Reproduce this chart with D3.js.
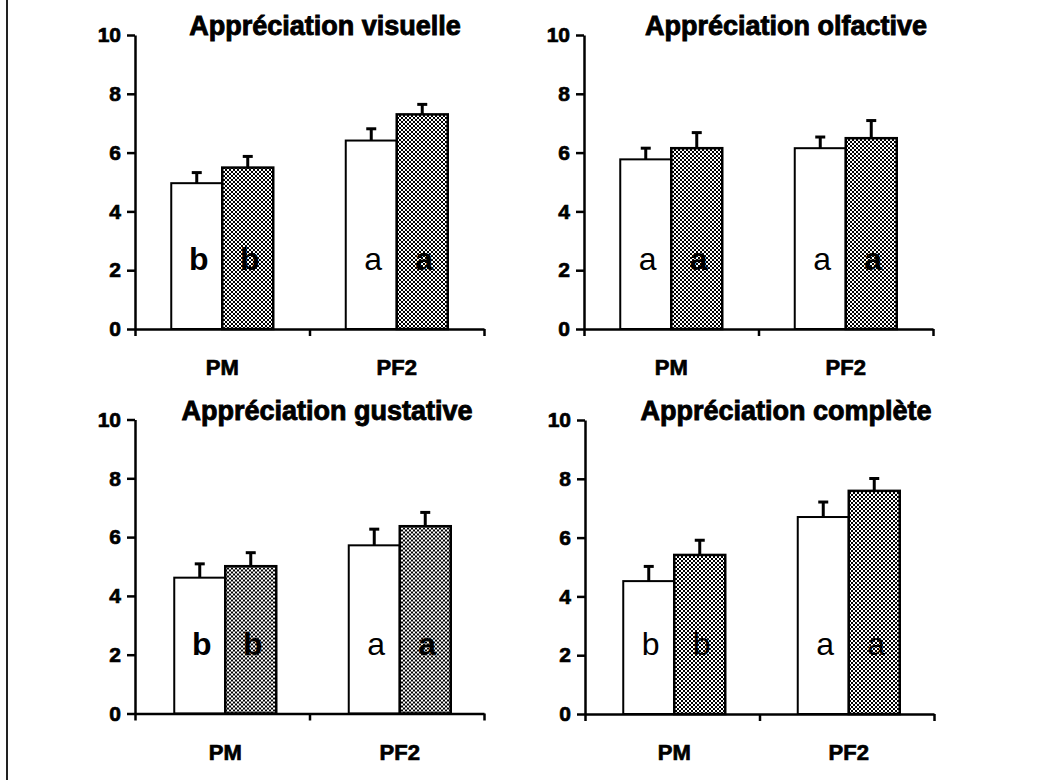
<!DOCTYPE html>
<html>
<head>
<meta charset="utf-8">
<script src="https://cdn.jsdelivr.net/npm/d3@7"></script>
<style>
body { margin: 0; background: #fff; }
svg { display: block; font-family: "Liberation Sans", Arial, sans-serif; }
.axis path, .axis line { stroke: #000; stroke-width: 2.5; }
.axis text { font-size: 21px; font-weight: bold; fill: #000; stroke: #000; stroke-width: 0.7px; font-family: "Liberation Sans", Arial, sans-serif; }
.title { font-size: 27px; font-weight: bold; stroke: #000; stroke-width: 0.9px; }
.catLabel { font-size: 22px; font-weight: bold; stroke: #000; stroke-width: 0.7px; }
.letter { font-size: 32px; }
</style>
</head>
<body>
<div id="chart"></div>
<script>
var titles = ["Appréciation visuelle", "Appréciation olfactive", "Appréciation gustative", "Appréciation complète"];
var categories = ["PM", "PF2"];
var series = ["white", "gray"];
var yTicks = [0, 2, 4, 6, 8, 10];

// mean scores per panel, [PM, PF2]
var whiteMeans = [[4.96, 6.41], [5.77, 6.15], [4.62, 5.72], [4.52, 6.70]];
var grayMeans  = [[5.49, 7.30], [6.15, 6.49], [5.01, 6.37], [5.41, 7.59]];
// upper error bars
var whiteErrors = [[0.36, 0.40], [0.38, 0.38], [0.47, 0.55], [0.50, 0.51]];
var grayErrors  = [[0.38, 0.34], [0.53, 0.60], [0.46, 0.47], [0.50, 0.42]];
// significance letters, [PM white, PM gray, PF2 white, PF2 gray]
var letters = [["b", "b", "a", "a"], ["a", "a", "a", "a"], ["b", "b", "a", "a"], ["b", "b", "a", "a"]];
var letterBold = [[true, true, false, true], [false, true, false, true], [true, true, false, true], [false, false, false, false]];

var width = 1037, height = 780;
var plotW = 349, plotH = 294, pairW = 102;

// where each panel's y axis sits (left, top of the 0..10 range)
var panels = [
    {left: 135, top: 35, titleX: 190, shift: 0},
    {left: 584, top: 35, titleX: 202, shift: 0},
    {left: 135, top: 419.5, titleX: 192, shift: 3},
    {left: 585, top: 420, titleX: 201, shift: 2}
];

var svg = d3.select("#chart").append("svg")
    .attr("width", width)
    .attr("height", height);

svg.append("rect").attr("width", width).attr("height", height).attr("fill", "#fff");

// dithered grey fill like the printed original
var pattern = svg.append("defs").append("pattern")
    .attr("id", "dither")
    .attr("patternUnits", "userSpaceOnUse")
    .attr("width", 4).attr("height", 4);
pattern.append("rect").attr("width", 4).attr("height", 4).attr("fill", "#fff");
pattern.append("rect").attr("x", 0).attr("y", 0).attr("width", 2).attr("height", 2).attr("fill", "#000");
pattern.append("rect").attr("x", 2).attr("y", 2).attr("width", 2).attr("height", 2).attr("fill", "#000");

// page frame on the left
svg.append("line")
    .attr("x1", 7).attr("x2", 7).attr("y1", 0).attr("y2", height)
    .attr("stroke", "#222").attr("stroke-width", 2);

function drawPanel(i) {
    var p = panels[i];
    var g = svg.append("g").attr("transform", `translate(${p.left},${p.top})`);

    var y = d3.scaleLinear().domain([0, 10]).range([plotH, 0]);
    var x0 = d3.scaleBand().domain(categories).range([0, plotW]);
    var x1 = d3.scaleBand().domain(series).range([0, pairW]);
    var xt = d3.scaleLinear().domain([0, 2]).range([0, plotW]);

    var rows = [];
    categories.forEach(function (cat, c) {
        rows.push({cat: cat, s: "white", mean: whiteMeans[i][c], err: whiteErrors[i][c], letter: letters[i][c * 2], bold: letterBold[i][c * 2]});
        rows.push({cat: cat, s: "gray", mean: grayMeans[i][c], err: grayErrors[i][c], letter: letters[i][c * 2 + 1], bold: letterBold[i][c * 2 + 1]});
    });

    function barX(d) {
        return x0(d.cat) + (x0.bandwidth() - pairW) / 2 + x1(d.s) + p.shift;
    }

    // error bars (upper only)
    g.selectAll("line.err").data(rows).enter().append("line")
        .attr("class", "err")
        .attr("x1", function (d) { return barX(d) + x1.bandwidth() / 2; })
        .attr("x2", function (d) { return barX(d) + x1.bandwidth() / 2; })
        .attr("y1", function (d) { return y(d.mean); })
        .attr("y2", function (d) { return y(d.mean + d.err); })
        .attr("stroke", "#000").attr("stroke-width", 3);
    g.selectAll("line.cap").data(rows).enter().append("line")
        .attr("class", "cap")
        .attr("x1", function (d) { return barX(d) + x1.bandwidth() / 2 - 5; })
        .attr("x2", function (d) { return barX(d) + x1.bandwidth() / 2 + 5; })
        .attr("y1", function (d) { return y(d.mean + d.err); })
        .attr("y2", function (d) { return y(d.mean + d.err); })
        .attr("stroke", "#000").attr("stroke-width", 3);

    // bars
    g.selectAll("rect.bar").data(rows).enter().append("rect")
        .attr("class", "bar")
        .attr("x", barX)
        .attr("y", function (d) { return y(d.mean); })
        .attr("width", x1.bandwidth())
        .attr("height", function (d) { return plotH - y(d.mean); })
        .attr("fill", function (d) { return d.s == "gray" ? "url(#dither)" : "#fff"; })
        .attr("stroke", "#000")
        .attr("stroke-width", function (d) { return d.s == "gray" ? 2.5 : 2; });

    // letters inside the bars
    g.selectAll("text.letter").data(rows).enter().append("text")
        .attr("class", "letter")
        .attr("x", function (d) { return barX(d) + x1.bandwidth() / 2 + 2; })
        .attr("y", y(2))
        .attr("text-anchor", "middle")
        .attr("font-weight", function (d) { return d.bold ? "bold" : "normal"; })
        .text(function (d) { return d.letter; });

    // y axis
    g.append("g")
        .attr("class", "axis")
        .call(d3.axisLeft(y).tickValues(yTicks).tickSize(8).tickSizeOuter(0).tickPadding(6));

    // x axis with separators between the groups
    g.append("g")
        .attr("class", "axis")
        .attr("transform", `translate(0,${plotH})`)
        .call(d3.axisBottom(xt).tickValues([0, 1, 2]).tickSize(7).tickSizeOuter(0).tickFormat(""));

    g.selectAll("text.catLabel").data(categories).enter().append("text")
        .attr("class", "catLabel")
        .attr("x", function (d) { return x0(d) + x0.bandwidth() / 2 + p.shift; })
        .attr("y", plotH + 46)
        .attr("text-anchor", "middle")
        .text(function (d) { return d; });

    g.append("text")
        .attr("class", "title")
        .attr("x", p.titleX)
        .attr("y", 0)
        .attr("text-anchor", "middle")
        .text(titles[i]);
}

for (var i = 0; i < panels.length; i++) {
    drawPanel(i);
}
</script>
</body>
</html>
